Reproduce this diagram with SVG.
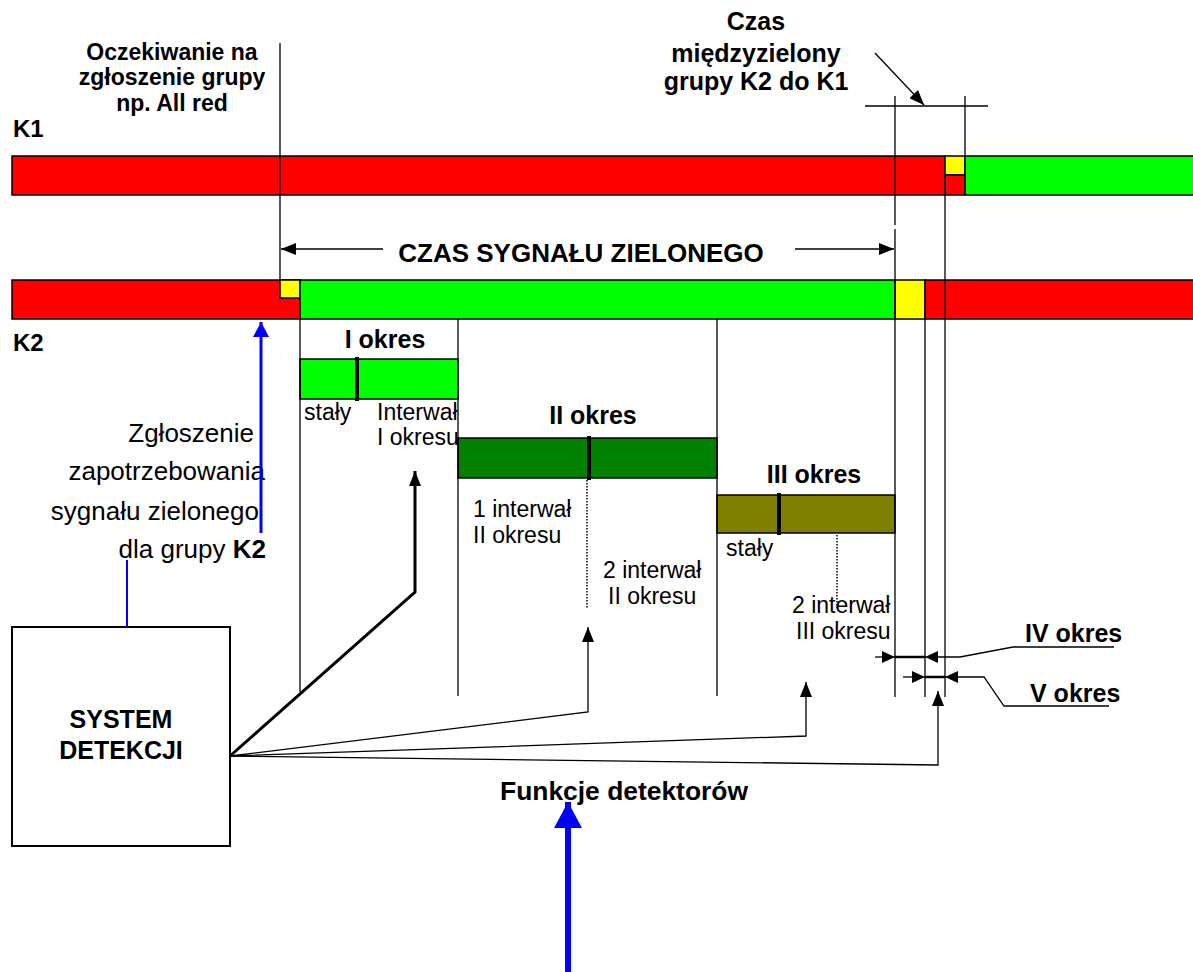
<svg xmlns="http://www.w3.org/2000/svg" width="1193" height="972" viewBox="0 0 1193 972">
  <style>
    .b { font-family: "Liberation Sans", Arial, sans-serif; font-weight: bold; fill: #000; }
    .r { font-family: "Liberation Sans", Arial, sans-serif; fill: #000; }
    .bar { stroke: #000; stroke-width: 1.5; }
    .ln { stroke: #000; stroke-width: 1.3; fill: none; }
    .dot { stroke: #000; stroke-width: 1.5; stroke-dasharray: 1.5 1.5; fill: none; }
    .tick { stroke: #000; stroke-width: 4; }
  </style>
  <defs>
    <marker id="ah" markerUnits="userSpaceOnUse" markerWidth="16" markerHeight="12" refX="15" refY="6" orient="auto">
      <path d="M0,0 L15,6 L0,12 z" fill="#000"/>
    </marker>
    <marker id="ahs" markerUnits="userSpaceOnUse" markerWidth="14" markerHeight="12" refX="13" refY="6" orient="auto">
      <path d="M0,0 L13,6 L0,12 z" fill="#000"/>
    </marker>
    <marker id="ahBlue" markerUnits="userSpaceOnUse" markerWidth="16" markerHeight="16" refX="15" refY="8" orient="auto">
      <path d="M0,0 L15,8 L0,16 z" fill="#0000FF"/>
    </marker>
    <marker id="ahBlueBig" markerUnits="userSpaceOnUse" markerWidth="28" markerHeight="30" refX="26" refY="14" orient="auto">
      <path d="M0,0 L26,14 L0,28 z" fill="#0000FF"/>
    </marker>
    <clipPath id="clipI"><rect x="0" y="380" width="458" height="90"/></clipPath>
    <clipPath id="clipIII"><rect x="700" y="580" width="195" height="40"/></clipPath>
  </defs>

  <rect width="1193" height="972" fill="#fff"/>

  <!-- signal group K1 -->
  <g id="k1">
    <rect class="bar" x="12" y="156" width="933" height="39" fill="#FF0000"/>
    <rect class="bar" x="945" y="156" width="20" height="19" fill="#FFFF00"/>
    <rect class="bar" x="945" y="175" width="20" height="20" fill="#FF0000"/>
    <rect class="bar" x="965" y="156" width="240" height="39" fill="#00FF00"/>
    <text class="b" x="13" y="137" font-size="24">K1</text>
  </g>

  <!-- signal group K2 -->
  <g id="k2">
    <rect class="bar" x="12" y="280" width="288" height="39" fill="#FF0000"/>
    <rect class="bar" x="280" y="280" width="20" height="18" fill="#FFFF00"/>
    <rect class="bar" x="300" y="280" width="595" height="39" fill="#00FF00"/>
    <rect class="bar" x="895" y="280" width="30" height="39" fill="#FFFF00"/>
    <rect class="bar" x="925" y="280" width="280" height="39" fill="#FF0000"/>
    <text class="b" x="13" y="351" font-size="24">K2</text>
  </g>

  <!-- period I texts, partly hidden by the period II bar -->
  <g id="period1-text">
    <text class="r" x="304" y="420" font-size="23">stały</text>
    <g clip-path="url(#clipI)">
      <text class="r" x="377" y="420" font-size="23">Interwał</text>
      <text class="r" x="377" y="445" font-size="23">I okresu</text>
    </g>
  </g>

  <!-- period I -->
  <g id="period1">
    <text class="b" x="385" y="348" font-size="25" text-anchor="middle">I okres</text>
    <rect class="bar" x="300" y="359" width="158" height="40" fill="#00FF00"/>
    <line class="tick" x1="357" y1="357" x2="357" y2="401"/>
  </g>

  <!-- period II -->
  <g id="period2">
    <text class="b" x="593" y="424" font-size="25" text-anchor="middle">II okres</text>
    <rect class="bar" x="458" y="438" width="259" height="40" fill="#008000"/>
    <line class="tick" x1="589" y1="436" x2="589" y2="480"/>
    <line class="dot" x1="587" y1="480" x2="587" y2="609"/>
    <text class="r" x="473" y="517" font-size="23">1 interwał</text>
    <text class="r" x="473" y="543" font-size="23">II okresu</text>
    <text class="r" x="603" y="578" font-size="23">2 interwał</text>
    <text class="r" x="608" y="604" font-size="23">II okresu</text>
  </g>

  <!-- period III -->
  <g id="period3">
    <text class="b" x="814" y="483" font-size="25" text-anchor="middle">III okres</text>
    <rect class="bar" x="717" y="495" width="178" height="38" fill="#808000"/>
    <line class="tick" x1="779" y1="493" x2="779" y2="535"/>
    <line class="dot" x1="837" y1="535" x2="837" y2="610"/>
    <text class="r" x="726" y="556" font-size="23">stały</text>
    <g clip-path="url(#clipIII)">
      <text class="r" x="792" y="613" font-size="23">2 interwał</text>
    </g>
    <text class="r" x="796" y="639" font-size="23">III okresu</text>
  </g>

  <!-- periods IV and V -->
  <g id="period4">
    <text class="b" x="1025" y="642" font-size="25">IV okres</text>
  </g>
  <g id="period5">
    <text class="b" x="1030" y="702" font-size="25">V okres</text>
  </g>

  <!-- annotations -->
  <g id="wait-label">
    <text class="b" x="172" y="60" font-size="23" text-anchor="middle">Oczekiwanie na</text>
    <text class="b" x="172" y="85" font-size="23" text-anchor="middle">zgłoszenie grupy</text>
    <text class="b" x="172" y="111" font-size="23" text-anchor="middle">np. All red</text>
  </g>
  <g id="intergreen-label">
    <text class="b" x="756" y="30" font-size="25" text-anchor="middle">Czas</text>
    <text class="b" x="756" y="62" font-size="25" text-anchor="middle">międzyzielony</text>
    <text class="b" x="756" y="90" font-size="25" text-anchor="middle">grupy K2 do K1</text>
  </g>
  <g id="green-time-label">
    <text class="b" x="581" y="262" font-size="26" text-anchor="middle">CZAS SYGNAŁU ZIELONEGO</text>
  </g>
  <g id="demand-label">
    <text class="r" x="254" y="442" font-size="26" text-anchor="end">Zgłoszenie</text>
    <text class="r" x="265" y="480" font-size="26" text-anchor="end">zapotrzebowania</text>
    <text class="r" x="259" y="520" font-size="26" text-anchor="end">sygnału zielonego</text>
    <text class="r" x="266" y="558" font-size="26" text-anchor="end">dla grupy <tspan font-weight="bold">K2</tspan></text>
  </g>
  <g id="detector-label">
    <text class="b" x="500" y="800" font-size="25" textLength="248" lengthAdjust="spacingAndGlyphs">Funkcje detektorów</text>
  </g>

  <!-- detection system -->
  <g id="system">
    <rect x="12" y="627" width="218" height="219" fill="#fff" stroke="#000" stroke-width="2"/>
    <text class="b" x="121" y="728" font-size="25" text-anchor="middle">SYSTEM</text>
    <text class="b" x="121" y="759" font-size="25" text-anchor="middle">DETEKCJI</text>
  </g>

  <!-- connectors and guide lines -->
  <g id="connectors">
    <!-- vertical guide lines -->
    <line class="ln" x1="280" y1="43" x2="280" y2="280"/>
    <line class="ln" x1="895" y1="96" x2="895" y2="225"/>
    <line class="ln" x1="895" y1="229" x2="895" y2="697"/>
    <line class="ln" x1="965" y1="96" x2="965" y2="156"/>
    <line class="ln" x1="945" y1="195" x2="945" y2="697"/>
    <line class="ln" x1="925" y1="319" x2="925" y2="697"/>
    <line class="ln" x1="300" y1="319" x2="300" y2="692"/>
    <line class="ln" x1="458" y1="319" x2="458" y2="696"/>
    <line class="ln" x1="717" y1="319" x2="717" y2="696"/>

    <!-- intergreen dimension -->
    <line class="ln" x1="865" y1="106" x2="988" y2="106"/>
    <line class="ln" x1="875" y1="53" x2="924" y2="105" marker-end="url(#ah)"/>

    <!-- green time arrows -->
    <line class="ln" x1="383" y1="249" x2="281" y2="249" marker-end="url(#ah)"/>
    <line class="ln" x1="795" y1="249" x2="894" y2="249" marker-end="url(#ah)"/>

    <!-- period IV -->
    <line class="ln" x1="875" y1="657" x2="895" y2="657" marker-end="url(#ahs)"/>
    <line x1="895" y1="657" x2="925" y2="657" stroke="#000" stroke-width="2.5"/>
    <polyline class="ln" points="1114,647 1013,647 960,657 945,657 925,657" marker-end="url(#ahs)"/>

    <!-- period V -->
    <line class="ln" x1="903" y1="677" x2="925" y2="677" marker-end="url(#ahs)"/>
    <line x1="925" y1="677" x2="945" y2="677" stroke="#000" stroke-width="2.5"/>
    <polyline class="ln" points="1109,706 1004,706 984,677 945,677" marker-end="url(#ahs)"/>

    <!-- detector function links -->
    <polyline points="230,756 415,592 415,471" fill="none" stroke="#000" stroke-width="3" marker-end="url(#ah)"/>
    <polyline class="ln" points="230,756 588,712 588,627" marker-end="url(#ah)"/>
    <polyline class="ln" points="230,756 806,736 806,682" marker-end="url(#ah)"/>
    <polyline class="ln" points="230,756 938,765 938,691" marker-end="url(#ah)"/>

    <!-- demand request -->
    <line x1="261" y1="533" x2="261" y2="322" stroke="#0000FF" stroke-width="3" marker-end="url(#ahBlue)"/>
    <line x1="127" y1="560" x2="127" y2="627" stroke="#0000FF" stroke-width="2"/>
    <line x1="568" y1="972" x2="568" y2="802" stroke="#0000FF" stroke-width="6" marker-end="url(#ahBlueBig)"/>
  </g>
</svg>
